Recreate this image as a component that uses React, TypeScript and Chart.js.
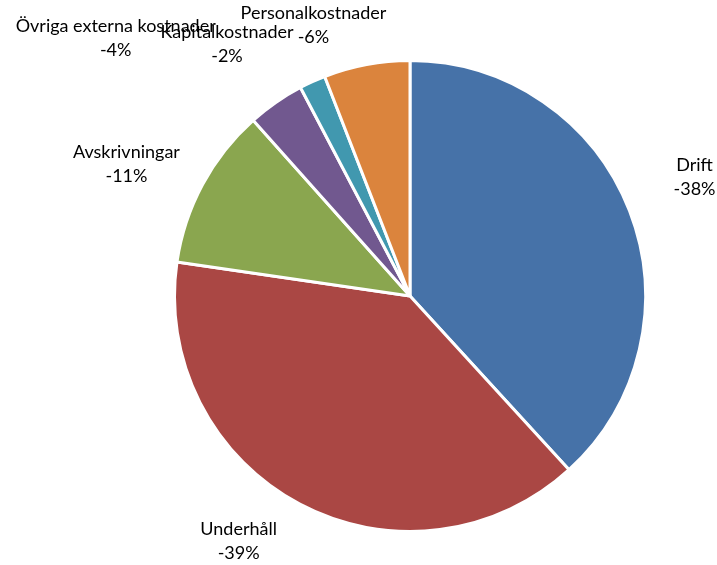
import React, { useEffect, useRef } from "react";
import { Chart, registerables } from "chart.js";

Chart.register(...registerables);

const categories = [
  "Drift",
  "Underhåll",
  "Avskrivningar",
  "Övriga externa kostnader",
  "Kapitalkostnader",
  "Personalkostnader",
];
const shares = [38.2, 39.1, 11.1, 3.9, 1.8, 5.9];
const colors = ["#4672A8", "#AA4744", "#8AA64F", "#71588F", "#4198AF", "#DB843D"];

// label placement tweaks (angle shift in degrees, extra distance beyond radius)
const labelAngleShift = [-1.5, 7, -3.4, -14, -11.5, -9];
const labelExtra = [73, 64, 77, 156, 76, 52];

const FONT = "Lato, 'Open Sans', sans-serif";

const labelPlugin = {
  id: "outsideLabels",
  afterDraw(chart: any) {
    const ctx = chart.ctx;
    const meta = chart.getDatasetMeta(0);
    const data = chart.data.datasets[0].data as number[];
    const total = data.reduce((a, b) => a + b, 0);
    ctx.save();
    ctx.font = `18px ${FONT}`;
    ctx.fillStyle = "#000";
    ctx.textAlign = "center";
    ctx.textBaseline = "middle";
    meta.data.forEach((arc: any, i: number) => {
      const { x, y, startAngle, endAngle, outerRadius } = arc.getProps(
        ["x", "y", "startAngle", "endAngle", "outerRadius"],
        true
      );
      const mid = (startAngle + endAngle) / 2 + (labelAngleShift[i] * Math.PI) / 180;
      const d = outerRadius + labelExtra[i];
      const lx = x + Math.cos(mid) * d;
      const ly = y + Math.sin(mid) * d;
      const pct = Math.round((data[i] / total) * 100);
      ctx.fillText(chart.data.labels[i], lx, ly - 12);
      ctx.fillText(`-${pct}%`, lx, ly + 12);
    });
    ctx.restore();
  },
};

export default function App() {
  const ref = useRef<HTMLCanvasElement>(null);
  useEffect(() => {
    document.body.style.margin = "0";
    const chart = new Chart(ref.current!, {
      type: "pie",
      data: {
        labels: categories,
        datasets: [
          {
            data: shares,
            backgroundColor: colors,
            borderColor: "#ffffff",
            borderWidth: 3,
          },
        ],
      },
      options: {
        responsive: false,
        animation: false,
        layout: { padding: { left: 173, right: 70, top: 59, bottom: 32 } },
        plugins: {
          legend: { display: false },
          tooltip: { enabled: false },
        },
      },
      plugins: [labelPlugin],
    });
    return () => chart.destroy();
  }, []);
  return (
    <div style={{ width: 717, height: 565, background: "#fff" }}>
      <canvas ref={ref} width={717} height={565} />
    </div>
  );
}
